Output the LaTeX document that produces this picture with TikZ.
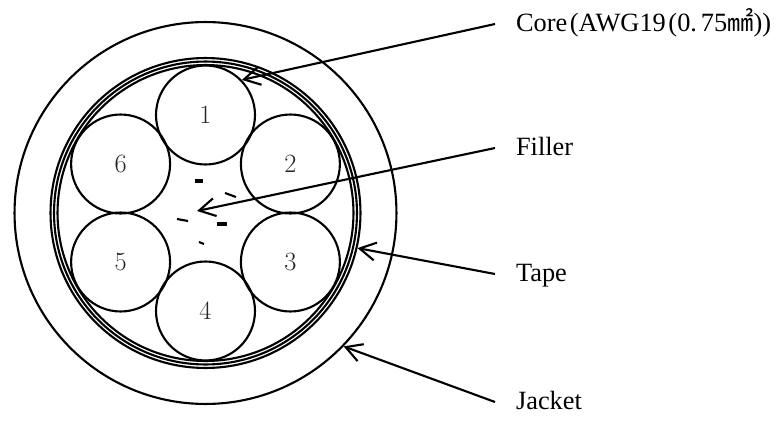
\documentclass[tikz,border=0pt]{standalone}
\usepackage{fontspec}
\newfontfamily\descfont{Liberation Serif}
\newfontfamily\cjk{Noto Sans CJK JP}
\usetikzlibrary{arrows.meta}

\begin{document}
\begin{tikzpicture}[x=0.02cm, y=-0.02cm, line width=1.2pt,
	ring/.style = {circle, draw, inner sep=0mm},
	wire/.style = {circle, draw, minimum size=1.98cm, inner sep=0mm,
	text=black!85, font=\fontsize{15}{18}\selectfont},
	desc/.style = {anchor=west, inner xsep=4mm, inner ysep=0mm,
	text height=0.85em, text depth=0.05em,
	font=\descfont\fontsize{15}{18}\selectfont},
	shred/.style = {line width=2pt},
	edge/.style = {-{Straight Barb[length=3.2mm, width=3.6mm]}}]

	\useasboundingbox (0,0) rectangle (782,423);

	\coordinate (centre) at (205.5, 213);

	\node (jacket) [ring, minimum size=7.64cm] at (centre) {};
	\node (tapeo)  [ring, minimum size=6.20cm] at (centre) {};
	\node (tapei)  [ring, minimum size=6.06cm] at (centre) {};
	\node (bind)   [ring, minimum size=5.92cm] at (centre) {};

	\node (c1) [wire] at (205.5, 115) {1};
	\node (c2) [wire] at (290.4, 164) {2};
	\node (c3) [wire] at (290.4, 262) {3};
	\node (c4) [wire] at (205.5, 311) {4};
	\node (c5) [wire] at (120.6, 262) {5};
	\node (c6) [wire] at (120.6, 164) {6};

	% Filler
	\draw[shred] (195,181) -- (203,181);
	\draw (225,193) -- (236,197);
	\draw (177,219) -- (188,221);
	\draw[shred] (217,224) -- (227,224);
	\draw (199,242) -- (204,244);
	\coordinate (pfill) at (197, 211);

	% Descriptions
	\node (core)   [desc] at (495, 24)  {Core\kern.1em(AWG19\kern.1em(0.\kern.15em 75{\cjk ㎟}))};
	\node (filler) [desc] at (495, 148) {Filler};
	\node (tape)   [desc] at (495, 274) {Tape};
	\node (sheath) [desc] at (495, 402) {Jacket};

	\draw[edge] (core.west) -- (c1.44);
	\draw[edge] (filler.west) -- (pfill);
	\draw[edge] (tape.west) -- (tapeo.-13);
	\draw[edge] (sheath.west) -- (jacket.-44);
\end{tikzpicture}
\end{document}
